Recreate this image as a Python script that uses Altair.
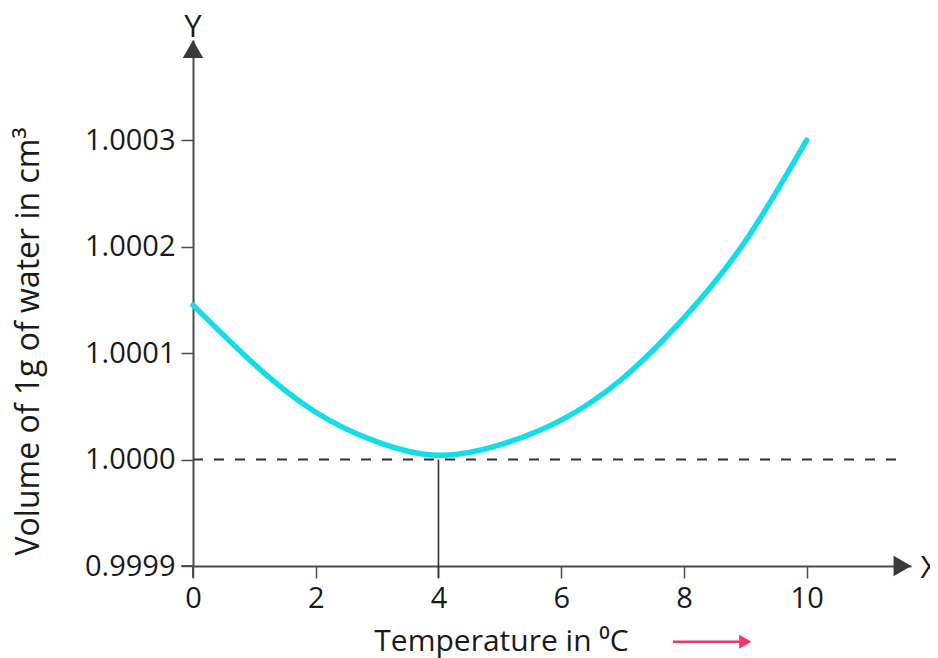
import altair as alt
import pandas as pd

# Curve readings (temperature in degC, volume of 1 g of water in cm3)
temp = [0, 1, 2, 3, 4, 5, 6, 7, 8, 9, 10]
volume = [1.000145, 1.0000894, 1.0000444, 1.0000166, 1.000004, 1.0000138,
          1.000037, 1.0000761, 1.000133, 1.000205, 1.0003]

x_ticks = [0, 2, 4, 6, 8, 10]
y_ticks = [0.9999, 1.0000, 1.0001, 1.0002, 1.0003]

x_domain = [0, 11.7]
y_domain = [0.9999, 1.000394]

FONT = "Open Sans"
AXIS_C = "#4d4d4d"
TEXT_C = "#1a1a1a"
CYAN = "#12dde9"
PINK = "#ec3768"

xs = alt.Scale(domain=x_domain, nice=False, zero=False)
ys = alt.Scale(domain=y_domain, nice=False, zero=False)

curve_df = pd.DataFrame({"t": temp, "v": volume})

x_axis = alt.Axis(values=x_ticks, format="d", title="Temperature in ⁰C",
                  tickSize=12, tickWidth=1.5, tickColor=AXIS_C,
                  domainColor=AXIS_C, domainWidth=2, grid=False,
                  labelFont=FONT, labelFontSize=29, labelColor=TEXT_C,
                  labelPadding=6, labelFlush=False,
                  titleFont=FONT, titleFontSize=30, titleFontWeight="normal",
                  titleColor=TEXT_C, titleX=308, titleY=84,
                  titleAlign="center", titleBaseline="alphabetic")
y_axis = alt.Axis(values=y_ticks, format=".4f", title="Volume of 1g of water in cm³",
                  tickSize=12, tickWidth=1.5, tickColor=AXIS_C,
                  domainColor=AXIS_C, domainWidth=2, grid=False,
                  labelFont=FONT, labelFontSize=29, labelColor=TEXT_C,
                  labelPadding=6, labelFlush=False,
                  titleFont=FONT, titleFontSize=32, titleFontWeight="normal",
                  titleColor=TEXT_C, titleAngle=-90, titleX=-155, titleY=301,
                  titleAlign="center", titleBaseline="alphabetic")


def X(field):
    return alt.X(field, type="quantitative", scale=xs, axis=x_axis)


def Y(field):
    return alt.Y(field, type="quantitative", scale=ys, axis=y_axis)


curve = alt.Chart(curve_df).mark_line(color=CYAN, strokeWidth=5.5,
                                      interpolate="natural", strokeCap="round").encode(
    x=X("t"), y=Y("v"))

# dashed reference line at 1.0000
dash_df = pd.DataFrame({"x": [0], "x2": [11.6], "y": [1.0]})
dashed = alt.Chart(dash_df).mark_rule(color="#333333", strokeWidth=1.8,
                                      strokeDash=[10, 11]).encode(
    x=X("x"), x2="x2:Q", y=Y("y"))

# vertical drop line at 4 degC
drop_df = pd.DataFrame({"x": [4], "y": [1.0], "y2": [0.999889]})
drop = alt.Chart(drop_df).mark_rule(color="#333333", strokeWidth=1.6).encode(
    x=X("x"), y=Y("y"), y2="y2:Q")

# axis extensions beyond the origin
ext_h = pd.DataFrame({"x": [-0.19], "x2": [0], "y": [0.9999]})
ext_v = pd.DataFrame({"x": [0], "y": [0.9999], "y2": [0.999889]})
exth = alt.Chart(ext_h).mark_rule(color=AXIS_C, strokeWidth=2).encode(
    x=X("x"), x2="x2:Q", y=Y("y"))
extv = alt.Chart(ext_v).mark_rule(color=AXIS_C, strokeWidth=2).encode(
    x=X("x"), y=Y("y"), y2="y2:Q")

# axis arrowheads
arrow_df = pd.DataFrame({"x": [0, 11.56], "y": [1.0003855, 0.9999],
                         "shape": ["triangle-up", "triangle-right"]})
arrows = alt.Chart(arrow_df).mark_point(filled=True, opacity=1, color="#3a3a3a",
                                        size=420).encode(
    x=X("x"), y=Y("y"),
    shape=alt.Shape("shape:N", scale=None, legend=None))

# axis letters
lab_df = pd.DataFrame({"x": [0, 12.0], "y": [1.0003968, 0.9998885], "txt": ["Y", "X"]})
letters = alt.Chart(lab_df).mark_text(font=FONT, fontSize=31, color=TEXT_C,
                                      baseline="alphabetic", align="center").encode(
    x=X("x"), y=Y("y"), text="txt:N")

# pink direction arrow next to x title
pink_line_df = pd.DataFrame({"x": [7.82], "x2": [8.95], "y": [0.9998289]})
pink_line = alt.Chart(pink_line_df).mark_rule(color=PINK, strokeWidth=2.5).encode(
    x=X("x"), x2="x2:Q", y=Y("y"))
pink_head_df = pd.DataFrame({"x": [9.0], "y": [0.9998289]})
pink_head = alt.Chart(pink_head_df).mark_point(shape="triangle-right", filled=True,
                                               opacity=1, color=PINK, size=200).encode(
    x=X("x"), y=Y("y"))

chart = alt.layer(dashed, drop, exth, extv, curve, arrows, letters,
                  pink_line, pink_head).properties(
    width=718, height=526,
    autosize="none",
    padding={"left": 185, "top": 32, "right": 19, "bottom": 92},
    background="white",
).configure_view(stroke=None)

chart.save("out.html", embed_options={"renderer": "svg", "actions": False})
